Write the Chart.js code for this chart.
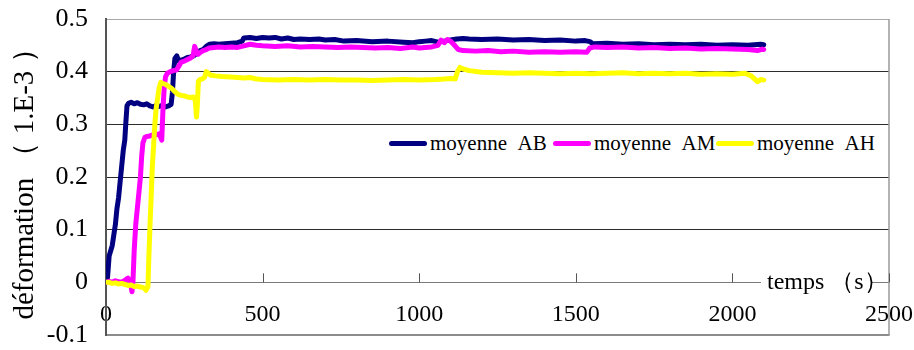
<!DOCTYPE html>
<html>
<head>
<meta charset="utf-8">
<script src="https://cdn.jsdelivr.net/npm/chart.js@4/dist/chart.umd.min.js"></script>
<style>
  html, body { margin: 0; padding: 0; background: #fff; }
  #wrap { position: relative; width: 914px; height: 350px; overflow: hidden; }
  #c { position: absolute; left: 0; top: 0; }
  .ov { position: absolute; background: #fff; font-family: 'Liberation Serif', serif; color: #000; white-space: nowrap; }
  #legend { left: 382px; top: 125px; width: 506px; height: 51px; font-size: 21px; }
  .sw { position: absolute; height: 5px; border-radius: 3px; top: 16px; }
  .lt { position: absolute; top: 3px; line-height: 30px; }
  #xt { left: 761px; top: 266px; width: 111px; height: 32px; font-size: 24px; line-height: 30px; }
</style>
</head>
<body>
<div id="wrap">
  <canvas id="c" width="914" height="350"></canvas>
  <div id="legend" class="ov"></div>
  <div id="xt" class="ov">&nbsp;temps （s）</div>
</div>
<script>
// ---- data ----
const seriesNames = ['moyenne AB', 'moyenne AM', 'moyenne AH'];
const seriesColors = ['#000080', '#FF00FF', '#FFFF00'];

const tAB = [0,5,10,15,20,25,30,35,40,45,50,55,60,63,67,72,80,90,100,110,120,130,140,150,160,170,180,190,200,208,212,216,220,226,232,240,250,260,270,280,290,300,310,320,330,345,360,380,400,420,435,440,460,480,500,520,540,560,580,600,620,650,680,700,730,760,800,850,900,950,980,1000,1020,1040,1060,1080,1100,1120,1140,1160,1200,1250,1300,1350,1400,1450,1500,1530,1545,1555,1600,1650,1700,1750,1800,1850,1900,1950,2000,2050,2090,2100];
const vAB = [0.0,0.01,0.05,0.06,0.07,0.09,0.11,0.14,0.16,0.19,0.22,0.25,0.27,0.30,0.335,0.34,0.342,0.339,0.341,0.338,0.337,0.339,0.335,0.333,0.336,0.334,0.336,0.333,0.335,0.338,0.36,0.40,0.425,0.43,0.42,0.422,0.424,0.427,0.428,0.43,0.435,0.44,0.442,0.448,0.452,0.453,0.452,0.453,0.454,0.455,0.458,0.464,0.465,0.463,0.465,0.464,0.465,0.462,0.464,0.461,0.462,0.461,0.462,0.46,0.461,0.458,0.459,0.457,0.458,0.456,0.455,0.457,0.458,0.459,0.456,0.458,0.46,0.462,0.463,0.462,0.461,0.462,0.46,0.461,0.459,0.46,0.458,0.459,0.457,0.453,0.454,0.452,0.453,0.451,0.452,0.451,0.452,0.45,0.451,0.45,0.452,0.451];

const tAM = [0,10,20,30,40,50,60,70,78,83,86,90,95,100,105,110,114,118,124,130,140,150,160,170,178,182,186,190,196,205,215,225,232,240,250,260,270,278,283,288,294,300,310,320,330,345,360,380,400,420,440,460,480,500,540,580,620,660,700,740,780,820,860,900,940,980,1000,1020,1040,1060,1070,1080,1090,1100,1110,1125,1140,1180,1220,1260,1300,1350,1400,1450,1500,1535,1545,1560,1600,1650,1700,1750,1800,1850,1900,1950,2000,2050,2080,2095,2100];
const vAM = [0.0,0.002,0.0,0.003,0.001,0.0,0.004,0.008,0.0,-0.018,0.0,0.06,0.11,0.14,0.17,0.2,0.24,0.265,0.275,0.277,0.278,0.28,0.28,0.282,0.27,0.33,0.37,0.39,0.397,0.4,0.402,0.403,0.41,0.418,0.42,0.423,0.426,0.43,0.448,0.44,0.433,0.436,0.44,0.442,0.445,0.446,0.447,0.446,0.447,0.446,0.449,0.452,0.45,0.449,0.448,0.449,0.447,0.448,0.447,0.446,0.447,0.446,0.445,0.446,0.444,0.447,0.445,0.446,0.447,0.45,0.46,0.455,0.461,0.458,0.452,0.442,0.44,0.439,0.44,0.438,0.439,0.437,0.438,0.437,0.438,0.437,0.445,0.447,0.446,0.447,0.445,0.446,0.444,0.445,0.443,0.444,0.443,0.442,0.44,0.443,0.442];

const tAH = [0,10,20,30,40,50,60,70,80,90,100,110,120,128,134,137,140,144,148,152,156,160,165,170,175,180,190,200,210,220,230,240,250,260,270,280,285,289,292,295,300,310,315,320,325,335,350,370,400,420,440,460,480,500,550,600,650,700,750,800,850,900,950,1000,1050,1080,1100,1115,1122,1130,1140,1160,1200,1250,1300,1350,1400,1450,1500,1550,1600,1650,1700,1750,1800,1850,1900,1950,2000,2040,2060,2080,2090,2100];
const vAH = [0.0,0.0,-0.002,-0.001,-0.003,-0.002,-0.004,-0.006,-0.005,-0.008,-0.007,-0.009,-0.01,-0.015,-0.008,0.05,0.1,0.16,0.22,0.26,0.3,0.33,0.35,0.37,0.38,0.378,0.376,0.372,0.368,0.362,0.357,0.355,0.354,0.352,0.351,0.352,0.345,0.314,0.34,0.382,0.385,0.387,0.39,0.4,0.398,0.393,0.392,0.391,0.39,0.389,0.388,0.389,0.386,0.385,0.384,0.385,0.384,0.385,0.384,0.384,0.383,0.384,0.385,0.384,0.385,0.386,0.387,0.386,0.4,0.408,0.405,0.402,0.399,0.398,0.397,0.398,0.397,0.396,0.397,0.396,0.397,0.398,0.396,0.397,0.396,0.397,0.395,0.396,0.395,0.397,0.392,0.381,0.385,0.384];

const xMin = 0, xMax = 2500, xStep = 500;
const yMin = -0.1, yMax = 0.5, yStep = 0.1;
const yTitle = 'déformation （ 1.E-3 ）';

// ---- build ----
function pts(t, v) { return t.map((x, i) => ({ x: x, y: v[i] })); }
const allT = [tAB, tAM, tAH], allV = [vAB, vAM, vAH];

const FONT = "'Liberation Serif', serif";
Chart.defaults.font.family = FONT;
Chart.defaults.color = '#000';

const frame = {
  id: 'frame',
  afterDraw(chart) {
    const { ctx, chartArea: a, scales } = chart;
    const y0 = scales.y.getPixelForValue(0);
    ctx.save();
    ctx.strokeStyle = '#9a9a9a';
    ctx.lineWidth = 1.5;
    ctx.beginPath();
    ctx.moveTo(a.right, a.top);
    ctx.lineTo(a.right, a.bottom);
    ctx.stroke();
    ctx.strokeStyle = '#555';
    ctx.lineWidth = 1;
    for (let v = xMin + xStep; v <= xMax; v += xStep) {
      const px = Math.round(scales.x.getPixelForValue(v)) + 0.5;
      ctx.beginPath();
      ctx.moveTo(px, y0 - 9);
      ctx.lineTo(px, y0);
      ctx.stroke();
    }
    ctx.restore();
  }
};

new Chart(document.getElementById('c'), {
  type: 'line',
  data: {
    datasets: seriesNames.map((n, i) => ({
      label: n,
      data: pts(allT[i], allV[i]),
      borderColor: seriesColors[i],
      backgroundColor: seriesColors[i],
      borderWidth: 5,
      borderCapStyle: 'round',
      borderJoinStyle: 'round',
      pointRadius: 0,
      tension: 0,
      order: 2 - i
    }))
  },
  options: {
    responsive: false,
    animation: false,
    layout: { padding: { left: 0, right: 25, top: 19, bottom: 15 } },
    plugins: { legend: { display: false }, tooltip: { enabled: false } },
    scales: {
      x: {
        type: 'linear',
        min: xMin, max: xMax,
        afterFit(s) { s.height = 0; s.paddingLeft = 0; s.paddingRight = 0; s.paddingTop = 0; s.paddingBottom = 0; },
        ticks: {
          stepSize: xStep, autoSkip: false, maxRotation: 0,
          mirror: true,
          padding: 6,
          font: { size: 24 },
          color: '#000',
          callback: v => String(v)
        },
        grid: { display: true, drawOnChartArea: false, drawTicks: false, color: 'rgba(0,0,0,0)' },
        border: { display: true, color: '#8c8c8c', width: 1.5 }
      },
      y: {
        min: yMin, max: yMax,
        afterFit(s) { s.width = 106; s.paddingTop = 0; s.paddingBottom = 0; },
        ticks: {
          stepSize: yStep,
          padding: 18,
          font: { size: 26 },
          color: '#000',
          callback: v => String(Number(v.toFixed(1)))
        },
        grid: {
          drawTicks: false,
          lineWidth: 1,
          color: ctx => {
            const v = Math.round(ctx.tick.value * 10);
            if (v === 0) return '#7a7a7a';
            if (v === 5) return '#a8a8a8';
            if (v === -1) return '#8c8c8c';
            return '#2b2b2b';
          }
        },
        border: { display: true, color: '#555', width: 2 },
        title: {
          display: true,
          text: yTitle,
          font: { size: 29 },
          color: '#000',
          padding: { top: 8, bottom: 0 }
        }
      }
    }
  },
  plugins: [frame]
});

// ---- legend (HTML overlay) ----
const lg = document.getElementById('legend');
const swX = [7, 171, 334];
const txX = [48, 212, 375];
seriesNames.forEach((n, i) => {
  const s = document.createElement('div');
  s.className = 'sw';
  s.style.left = swX[i] + 'px';
  s.style.width = '38px';
  s.style.background = seriesColors[i];
  lg.appendChild(s);
  const t = document.createElement('div');
  t.className = 'lt';
  t.style.left = txX[i] + 'px';
  t.textContent = n.replace(' ', '\u2002');
  lg.appendChild(t);
});
</script>
</body>
</html>
